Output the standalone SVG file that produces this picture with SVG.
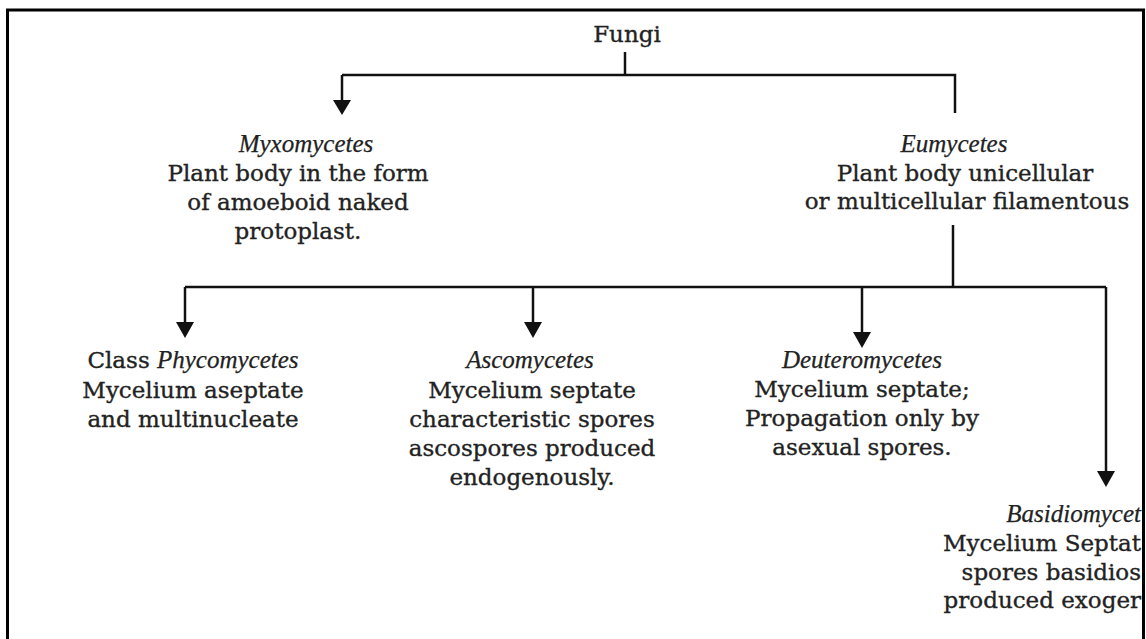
<svg xmlns="http://www.w3.org/2000/svg" width="1146" height="639" viewBox="0 0 1146 639">
<style>
text{font-family:"DejaVu Serif","Liberation Serif",serif;font-size:23px;fill:#222;stroke:#222;stroke-width:0.35;text-anchor:middle}
.i{font-family:"Liberation Serif","DejaVu Serif",serif;font-style:italic;font-size:25px;stroke-width:0.25}
.e{text-anchor:end}
.ln{fill:none;stroke:#111;stroke-width:2.5}
.ah{fill:#111}
</style>
<rect width="1146" height="639" fill="#fff"/>
<path d="M7.5,639 V10 H1143.5 V639" fill="none" stroke="#000" stroke-width="3"/>
<g id="connectors">
<path class="ln" d="M625,52 V75"/>
<path class="ln" d="M342,75 H955 V113"/>
<path class="ln" d="M342,75 V100"/>
<path class="ln" d="M953,225 V287"/>
<path class="ln" d="M185,287 H1106"/>
<path class="ln" d="M185,287 V323"/>
<path class="ln" d="M533,287 V323"/>
<path class="ln" d="M862,287 V333"/>
<path class="ln" d="M1106,287 V472"/>
<path class="ah" d="M333,100 L351,100 L342,115 Z"/>
<path class="ah" d="M176,322 L194,322 L185,338 Z"/>
<path class="ah" d="M524,322 L542,322 L533,338 Z"/>
<path class="ah" d="M853,332 L871,332 L862,348 Z"/>
<path class="ah" d="M1097,471 L1115,471 L1106,487 Z"/>
</g>
<g id="fungi"><text x="627" y="42">Fungi</text></g>
<g id="myxomycetes">
<text class="i" x="306" y="152">Myxomycetes</text>
<text x="298" y="181">Plant body in the form</text>
<text x="298" y="210">of amoeboid naked</text>
<text x="298" y="239">protoplast.</text>
</g>
<g id="eumycetes">
<text class="i" x="954" y="152">Eumycetes</text>
<text x="965" y="181">Plant body unicellular</text>
<text x="967" y="209">or multicellular filamentous</text>
</g>
<g id="phycomycetes">
<text x="193" y="368">Class <tspan class="i">Phycomycetes</tspan></text>
<text x="193" y="398">Mycelium aseptate</text>
<text x="193" y="427">and multinucleate</text>
</g>
<g id="ascomycetes">
<text class="i" x="530" y="368">Ascomycetes</text>
<text x="532" y="398">Mycelium septate</text>
<text x="532" y="427">characteristic spores</text>
<text x="532" y="456">ascospores produced</text>
<text x="532" y="485">endogenously.</text>
</g>
<g id="deuteromycetes">
<text class="i" x="862" y="368">Deuteromycetes</text>
<text x="862" y="397">Mycelium septate;</text>
<text x="862" y="426">Propagation only by</text>
<text x="862" y="455">asexual spores.</text>
</g>
<g id="basidiomycetes">
<text class="i e" x="1141" y="522">Basidiomycet</text>
<text class="e" x="1141" y="551">Mycelium Septat</text>
<text class="e" x="1141" y="580">spores basidios</text>
<text class="e" x="1141" y="608">produced exoger</text>
</g>
</svg>
